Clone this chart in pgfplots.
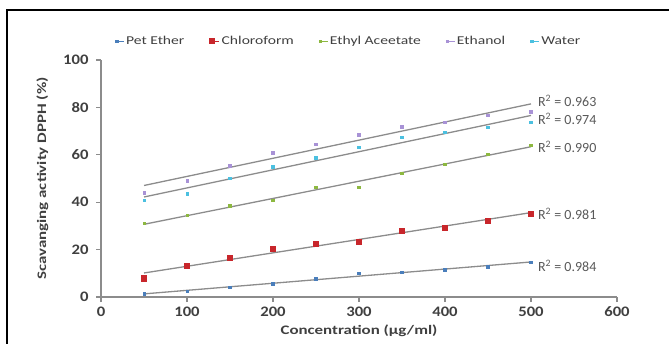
\documentclass[border=0pt]{standalone}
\usepackage{fontspec}
\setmainfont{Carlito}
\newfontfamily\widefont[FakeStretch=1.15]{Carlito}
\newfontfamily\widerfont[FakeStretch=1.3]{Carlito}
\usepackage{pgfplots}
\usepackage{pgfplotstable}
\pgfplotsset{compat=1.18}
\definecolor{cPet}{HTML}{4A7EBB}
\definecolor{cChl}{HTML}{C8262B}
\definecolor{cEth}{HTML}{8DB840}
\definecolor{cEtOH}{HTML}{A892D6}
\definecolor{cWat}{HTML}{4BC0E0}
\definecolor{axgray}{HTML}{8C8C8C}
\definecolor{txt}{HTML}{404040}
\definecolor{rtxt}{HTML}{595959}
\pgfplotstableread{
x pet chl ea etoh wat
50 1.3 7.9 31.1 44.0 40.9
100 2.4 13.2 34.5 49.0 43.5
150 4.1 16.5 38.4 55.3 50.2
200 5.6 20.3 40.9 60.9 55.0
250 7.7 22.5 46.4 64.4 58.9
300 10.0 23.5 46.4 68.5 63.2
350 10.4 28.1 52.2 71.9 67.4
400 11.5 29.4 56.1 73.8 69.5
450 12.9 32.1 60.3 76.7 71.7
500 14.6 35.2 64.1 78.2 73.7
}\data
\begin{document}
\begin{tikzpicture}[x=1pt,y=1pt]
\useasboundingbox (0,0) rectangle (669,343);
\draw[line width=1.5pt] (7,-5) -- (7,333) -- (675,333);
\begin{axis}[
  at={(101pt,46pt)}, anchor=south west,
  scale only axis, width=516pt, height=237pt,
  xmin=0, xmax=600, ymin=0, ymax=100,
  axis x line*=bottom, axis y line*=left,
  axis line style={axgray, line width=1.6pt, -},
  xtick={0,100,...,600}, ytick={0,20,...,100},
  tick style={axgray, line width=1.2pt},
  tick align=outside, major tick length=5pt,
  /pgf/number format/assume math mode=true,
  ticklabel style={font=\widefont\fontsize{14.5}{16}\selectfont\bfseries, text=txt},
  yticklabel style={xshift=-4pt},
  xticklabel style={yshift=-1pt},
  xlabel={Concentration (µg/ml)},
  ylabel={Scavanging activity DPPH (\%)},
  label style={font=\widerfont\fontsize{13}{15}\selectfont\bfseries, text=txt},
  xlabel style={yshift=-1pt},
  ylabel style={yshift=8pt},
  legend columns=5,
  legend style={draw=none, fill=none, at={(0.48,1.08)}, anchor=center,
    font=\widerfont\fontsize{12}{14}\selectfont, text=txt,
    /tikz/every even column/.append style={column sep=23pt}},
  legend image code/.code={\draw[#1] plot coordinates {(0pt,0pt)};\path (-1pt,0pt) -- (7.5pt,0pt);},
  clip=false,
]
\addplot[only marks, mark=square*, mark size=1.3pt, cPet] table[x=x,y=pet] {\data};
\addlegendentry{Pet Ether}
\addplot[only marks, mark=square*, mark size=2.6pt, cChl] table[x=x,y=chl] {\data};
\addlegendentry{Chloroform}
\addplot[only marks, mark=square*, mark size=1.3pt, cEth] table[x=x,y=ea] {\data};
\addlegendentry{Ethyl Aceetate}
\addplot[only marks, mark=square*, mark size=1.3pt, cEtOH] table[x=x,y=etoh] {\data};
\addlegendentry{Ethanol}
\addplot[only marks, mark=square*, mark size=1.3pt, cWat] table[x=x,y=wat] {\data};
\addlegendentry{Water}
\addplot[no marks, axgray, line width=1.3pt, forget plot] table[x=x,y={create col/linear regression={y=pet}}] {\data};
\addplot[no marks, axgray, line width=1.3pt, forget plot] table[x=x,y={create col/linear regression={y=chl}}] {\data};
\addplot[no marks, axgray, line width=1.3pt, forget plot] table[x=x,y={create col/linear regression={y=ea}}] {\data};
\addplot[no marks, axgray, line width=1.3pt, forget plot] table[x=x,y={create col/linear regression={y=etoh}}] {\data};
\addplot[no marks, axgray, line width=1.3pt, forget plot] table[x=x,y={create col/linear regression={y=wat}}] {\data};
\begin{scope}[every node/.style={anchor=west, inner sep=0pt, text=rtxt, font=\fontsize{14}{16}\selectfont}]
\node at (axis cs:508,82.7) {R\textsuperscript{2} = 0.963};
\node at (axis cs:508,75.1) {R\textsuperscript{2} = 0.974};
\node at (axis cs:508,63.3) {R\textsuperscript{2} = 0.990};
\node at (axis cs:508,35.0) {R\textsuperscript{2} = 0.981};
\node at (axis cs:508,13.1) {R\textsuperscript{2} = 0.984};
\end{scope}
\end{axis}
\end{tikzpicture}
\end{document}
